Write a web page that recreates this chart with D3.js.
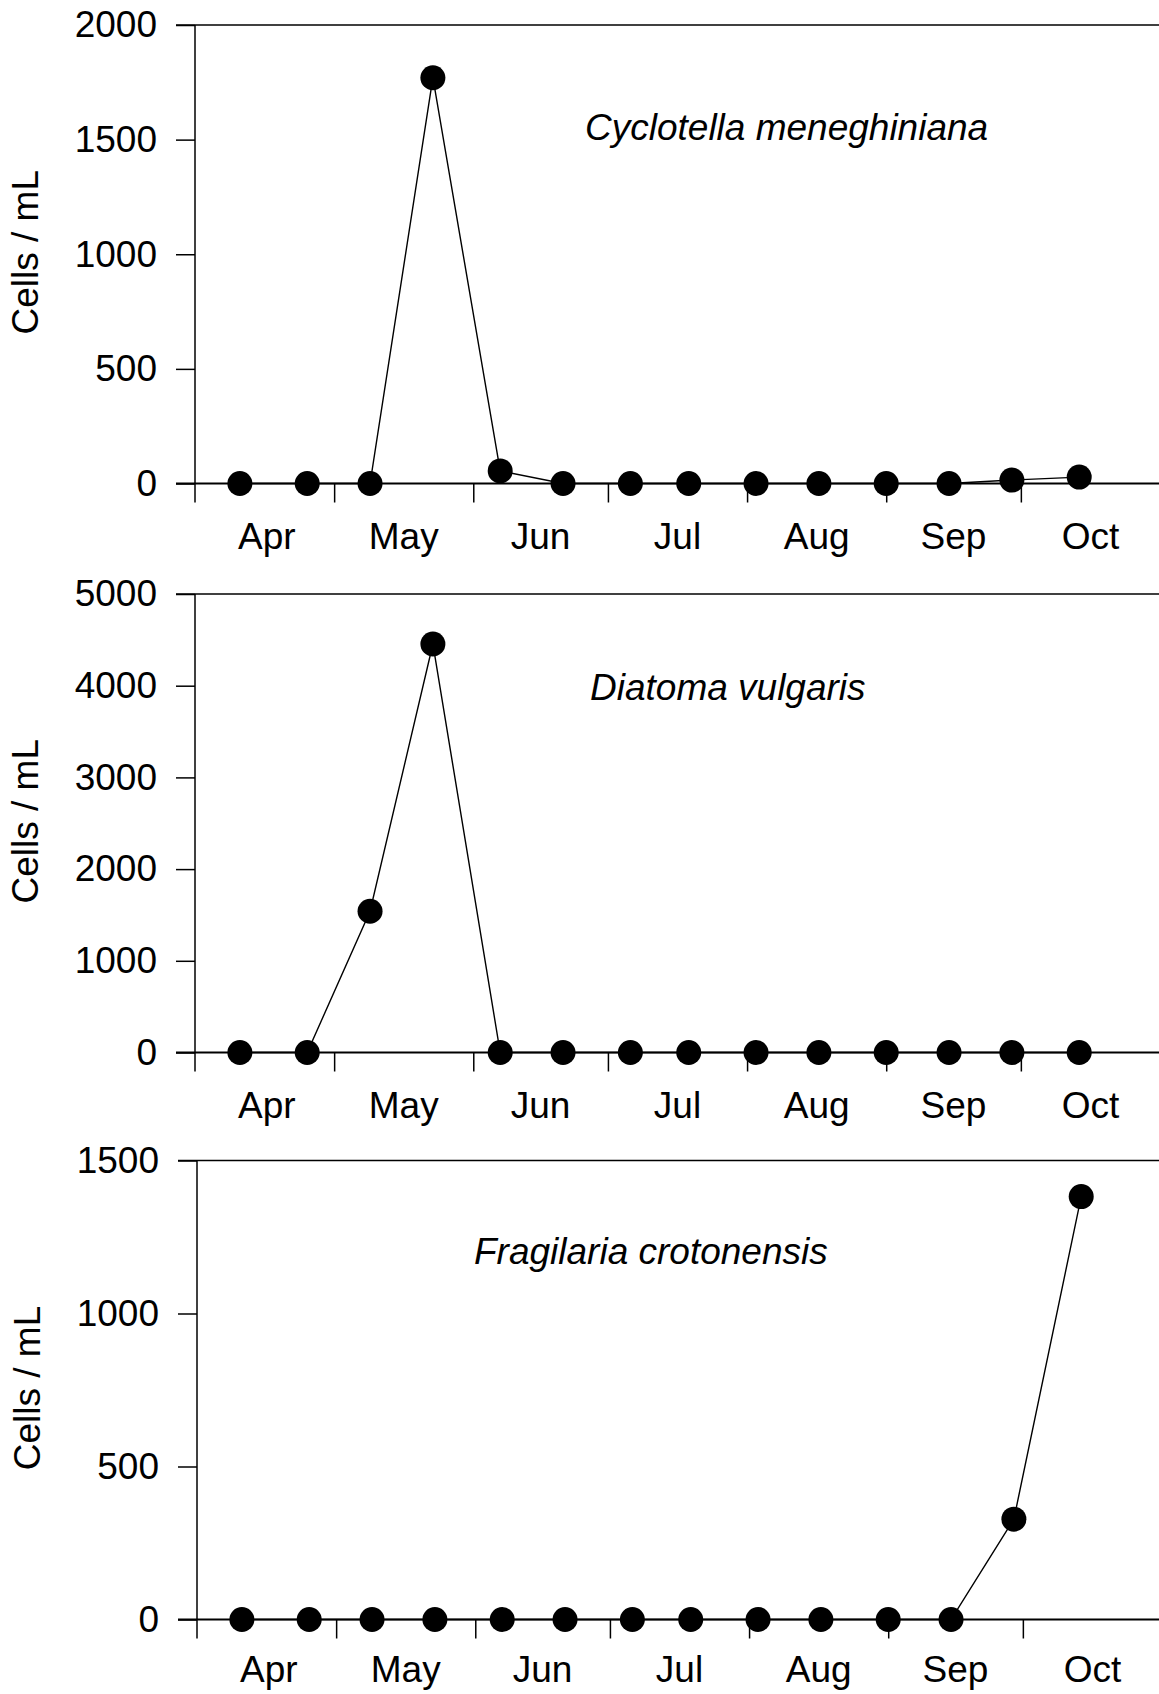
<!DOCTYPE html>
<html>
<head>
<meta charset="utf-8">
<script src="https://cdn.jsdelivr.net/npm/d3@7"></script>
<style>
  html, body { margin: 0; padding: 0; background: #fff; }
  svg { display: block; }
</style>
</head>
<body>
<div id="chart"></div>
<script>
// Sampling dates (month-day), same for all three species
var sampleDates = ['04-10', '04-25', '05-09', '05-23', '06-07', '06-21', '07-06',
	'07-19', '08-03', '08-17', '09-01', '09-15', '09-29', '10-14'];

// Cells / mL
var cyclotella = [0, 0, 0, 1770, 55, 0, 0, 0, 0, 0, 0, 0, 15, 28];
var diatoma = [0, 0, 1540, 4455, 0, 0, 0, 0, 0, 0, 0, 0, 0, 0];
var fragilaria = [0, 0, 0, 0, 0, 0, 0, 0, 0, 0, 0, 0, 328, 1382];

var ticksCyclotella = [0, 500, 1000, 1500, 2000];
var ticksDiatoma = [0, 1000, 2000, 3000, 4000, 5000];
var ticksFragilaria = [0, 500, 1000, 1500];

var monthLabels = ['Apr', 'May', 'Jun', 'Jul', 'Aug', 'Sep', 'Oct'];
var yLabel = 'Cells / mL';

var year = 2001;
var parseDate = d3.timeParse('%Y-%m-%d');

var W = 1159, H = 1694;
var font = '"Liberation Sans", Arial, Helvetica, sans-serif';
var fontSize = 37;

var panels = [
	{title: 'Cyclotella meneghiniana', values: cyclotella, yTicks: ticksCyclotella,
		axisX: 195, top: 25, zero: 483.5, titleX: 585, titleY: 140, labelY: 549, yLabelX: 38},
	{title: 'Diatoma vulgaris', values: diatoma, yTicks: ticksDiatoma,
		axisX: 195, top: 594, zero: 1052.5, titleX: 590, titleY: 700, labelY: 1118, yLabelX: 38},
	{title: 'Fragilaria crotonensis', values: fragilaria, yTicks: ticksFragilaria,
		axisX: 197, top: 1160.5, zero: 1619.5, titleX: 474, titleY: 1264, labelY: 1682, yLabelX: 40}
];

var svg = d3.select('#chart').append('svg')
	.attr('width', W)
	.attr('height', H);

svg.append('rect').attr('width', W).attr('height', H).attr('fill', '#fff');

var dates = sampleDates.map(function(d) { return parseDate(year + '-' + d); });

panels.forEach(function(p) {
	var g = svg.append('g');

	// Scales
	var x = d3.scaleTime()
		.domain([new Date(year, 2, 31), new Date(year, 10, 1)])
		.range([p.axisX, p.axisX + 965]);
	var yMax = d3.max(p.yTicks);
	var y = d3.scaleLinear()
		.domain([0, yMax])
		.range([p.zero, p.top]);

	// Y axis
	var yAxis = g.append('g')
		.attr('transform', 'translate(' + p.axisX + ',0)')
		.call(d3.axisLeft(y).tickValues(p.yTicks).tickFormat(d3.format('d'))
			.tickSize(19).tickSizeOuter(0).tickPadding(19));
	yAxis.select('.domain').remove();
	yAxis.selectAll('line').attr('stroke', '#000').attr('stroke-width', 1.5);
	yAxis.selectAll('text')
		.attr('fill', '#000')
		.style('font-family', font)
		.style('font-size', fontSize + 'px');

	g.append('line')
		.attr('x1', p.axisX).attr('x2', p.axisX)
		.attr('y1', y(yMax)).attr('y2', y(0) + 19)
		.attr('stroke', '#000').attr('stroke-width', 1.5);

	// top frame + zero line
	[yMax, 0].forEach(function(v) {
		g.append('line')
			.attr('x1', p.axisX - 19).attr('x2', W)
			.attr('y1', y(v)).attr('y2', y(v))
			.attr('stroke', '#000').attr('stroke-width', v === 0 ? 2 : 1.5);
	});

	// X axis ticks at month starts
	var monthTicks = d3.timeMonth.range(new Date(year, 4, 1), new Date(year, 10, 1));
	var xAxis = g.append('g')
		.attr('transform', 'translate(0,' + y(0) + ')')
		.call(d3.axisBottom(x).tickValues(monthTicks).tickSize(19).tickSizeOuter(0).tickFormat(''));
	xAxis.select('.domain').remove();
	xAxis.selectAll('line').attr('stroke', '#000').attr('stroke-width', 1.5);

	// Month labels centred in each month
	var monthStarts = d3.timeMonth.range(new Date(year, 3, 1), new Date(year, 10, 1));
	g.selectAll('.month-label')
		.data(monthStarts)
		.enter().append('text')
			.attr('class', 'month-label')
			.attr('x', function(d) { return (x(d) + x(d3.timeMonth.offset(d, 1))) / 2; })
			.attr('y', p.labelY)
			.attr('text-anchor', 'middle')
			.style('font-family', font)
			.style('font-size', fontSize + 'px')
			.text(function(d, i) { return monthLabels[i]; });

	// Y label
	g.append('text')
		.attr('transform', 'translate(' + p.yLabelX + ',' + ((p.top + p.zero) / 2 - 2) + ') rotate(-90)')
		.attr('text-anchor', 'middle')
		.style('font-family', font)
		.style('font-size', fontSize + 'px')
		.text(yLabel);

	// Species name
	g.append('text')
		.attr('x', p.titleX)
		.attr('y', p.titleY)
		.style('font-family', font)
		.style('font-size', fontSize + 'px')
		.style('font-style', 'italic')
		.text(p.title);

	// Data
	var points = dates.map(function(d, i) { return {date: d, value: p.values[i]}; });
	var line = d3.line()
		.x(function(d) { return x(d.date); })
		.y(function(d) { return y(d.value); });

	g.append('path')
		.datum(points)
		.attr('d', line)
		.attr('fill', 'none')
		.attr('stroke', '#000')
		.attr('stroke-width', 1.4);

	g.selectAll('.dot')
		.data(points)
		.enter().append('circle')
			.attr('class', 'dot')
			.attr('cx', function(d) { return x(d.date); })
			.attr('cy', function(d) { return y(d.value); })
			.attr('r', 12.5)
			.attr('fill', '#000');
});
</script>
</body>
</html>
